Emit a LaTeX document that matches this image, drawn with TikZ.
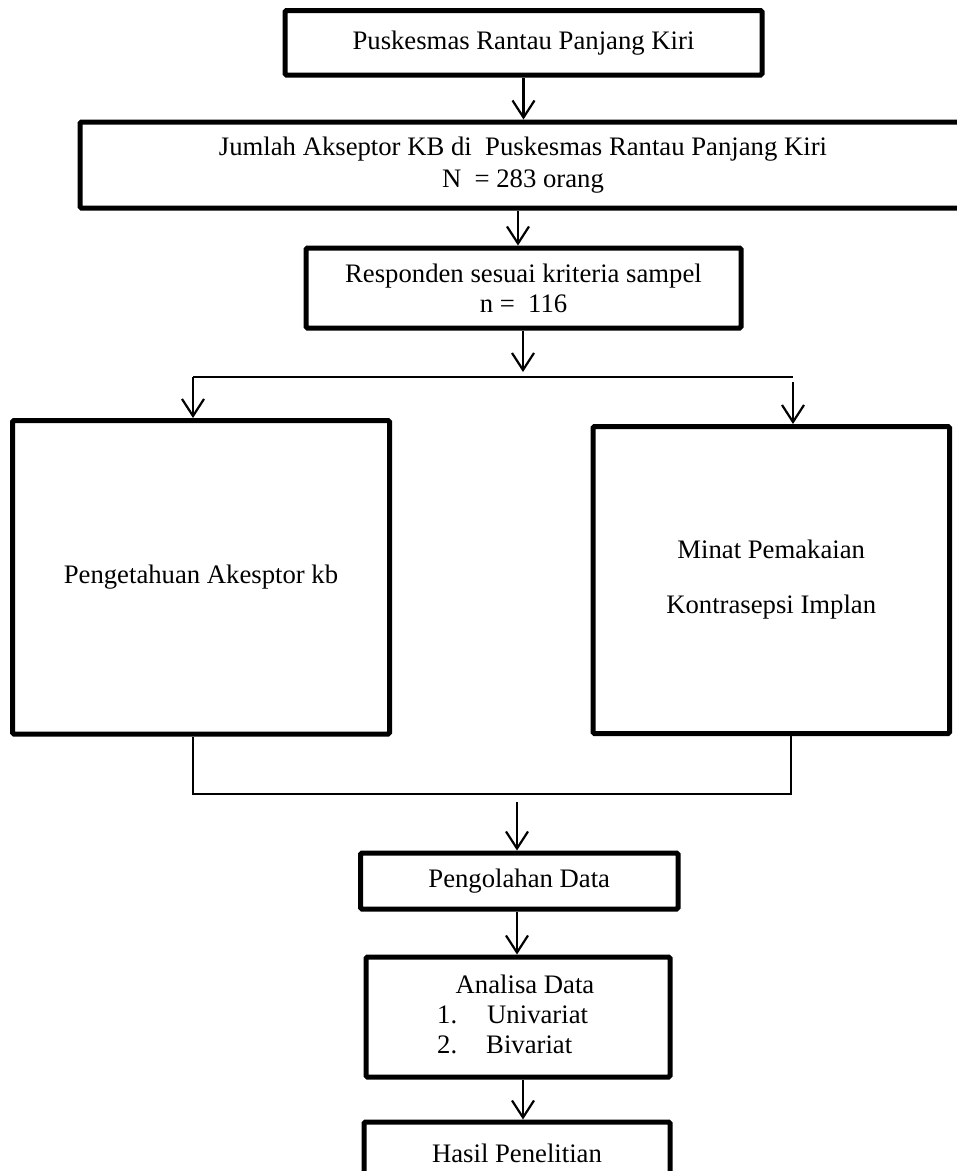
\documentclass[tikz,border=0pt]{standalone}
\usepackage{fontspec}
\setmainfont{Liberation Serif}
\usetikzlibrary{arrows.meta}
\begin{document}
\begin{tikzpicture}[x=1pt,y=-1pt,
  box/.style={draw, line width=5pt, rounded corners=1.5pt, inner sep=0pt, align=center,
    font=\fontsize{26.7}{32}\selectfont},
  arr/.style={line width=2.2pt, -{Straight Barb[length=17pt,width=22pt,line width=2.2pt]}},
  conn/.style={line width=1.6pt, black},
  txt/.style={font=\fontsize{26.7}{30}\selectfont, inner sep=0pt}]
\useasboundingbox (0,0) rectangle (957,1171);
\clip (0,0) rectangle (957,1171);

% boxes
\node[box, minimum width=477pt, minimum height=64.5pt] (b1) at (523.5,42.75) {Puskesmas Rantau Panjang Kiri};
\node[box, minimum width=886pt, minimum height=86pt] (b2) at (523,165) {Jumlah Akseptor KB di\ \ Puskesmas Rantau Panjang Kiri\\N\ \ = 283 orang};
\node[box, minimum width=435pt, minimum height=80pt, font=\fontsize{26.7}{30}\selectfont] (b3) at (523.5,288) {Responden sesuai kriteria sampel\\n =\ \ 116};
\node[box, minimum width=377pt, minimum height=313.5pt] (lb) at (201,577.25) {Pengetahuan Akesptor kb};
\node[box, minimum width=356.5pt, minimum height=307pt] (rb) at (771.25,580) {Minat Pemakaian\\[23pt]Kontrasepsi Implan};
\node[box, minimum width=317.5pt, minimum height=56pt] (pg) at (519.25,881) {Pengolahan Data};
\node[box, minimum width=304pt, minimum height=120pt] (an) at (518,1017) {};
\node[box, minimum width=306pt, minimum height=63pt] (hs) at (517,1153.5) {Hasil Penelitian};

% analisa text
\node[txt, anchor=base] (at0) at (525,993) {Analisa Data};
\node[txt, anchor=base west] (at1n) at (437,1023) {1.};
\node[txt, anchor=base west] (at1) at (487,1023) {Univariat};
\node[txt, anchor=base west] (at2n) at (437,1053) {2.};
\node[txt, anchor=base west] (at2) at (486,1053) {Bivariat};

% connectors
\draw[arr] (b1.south) -- (b1.south |- b2.north);
\coordinate (c23) at (518,0);
\draw[arr] (b2.south -| c23) -- (b3.north -| c23);

\coordinate (split) at (523,377);
\coordinate (sl) at (193,377);
\coordinate (sr) at (793,377);
\coordinate (srt) at (793,382);
\draw[arr] (b3.south -| split) -- ([yshift=5pt]split);
\draw[conn] (sr) -- (sl);
\draw[arr] (sl) -- (sl |- lb.north);
\draw[arr] (srt) -- (srt |- rb.north);

\coordinate (jl) at (193,794);
\coordinate (jr) at (791,794);
\draw[conn] (lb.south -| jl) -- (jl) -- (jr) -- (rb.south -| jr);
\coordinate (j) at (517,802);
\draw[arr] (j) -- (j |- pg.north);
\draw[arr] (pg.south -| j) -- (an.north -| j);
\coordinate (k) at (523,0);
\draw[arr] (an.south -| k) -- (hs.north -| k);
\end{tikzpicture}
\end{document}
